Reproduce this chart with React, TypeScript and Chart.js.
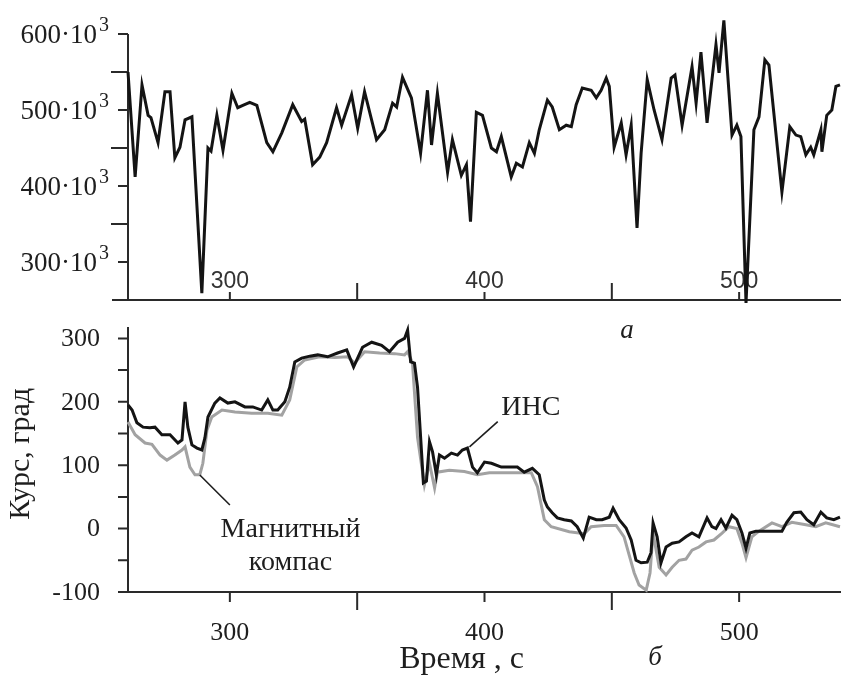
import { useEffect, useRef } from 'react';
import { Chart, registerables } from 'chart.js';

Chart.register(...registerables);

// ---------- data ----------
const X_MIN = 260;
const X_MAX = 540;
const X_TICKS = [300, 350, 400, 450, 500];
const X_LABELED = [300, 400, 500];

// panel "а" (values in thousands)
const A_Y_MIN = 250;
const A_Y_MAX = 600;
const A_Y_TICKS = [250, 300, 350, 400, 450, 500, 550, 600];
const A_Y_LABELED = [300, 400, 500, 600];

const TOP_T = [260.0, 262.8, 265.5, 267.9, 269.0, 271.8, 274.5, 276.5, 278.4, 280.4, 282.4, 285.1, 289.0, 291.4, 292.6, 294.9, 297.3, 300.8, 303.1, 305.1, 307.8, 310.6, 314.5, 316.9, 320.4, 324.7, 328.2, 329.4, 332.5, 335.3, 338.0, 341.9, 343.9, 347.8, 350.2, 352.9, 357.6, 360.8, 363.9, 365.5, 367.8, 371.3, 374.9, 377.6, 379.2, 381.5, 385.5, 387.4, 390.9, 392.9, 394.5, 396.8, 399.2, 402.7, 404.7, 406.6, 410.5, 412.5, 414.9, 417.6, 419.6, 421.5, 424.7, 426.6, 429.4, 432.1, 434.1, 436.0, 438.4, 441.9, 443.9, 445.8, 447.8, 449.0, 450.9, 453.7, 455.6, 457.6, 459.9, 461.5, 463.9, 466.6, 469.7, 473.3, 474.8, 477.6, 481.5, 483.1, 485.0, 487.4, 490.9, 492.1, 494.0, 497.2, 499.1, 500.7, 502.7, 505.8, 507.8, 510.1, 511.7, 516.8, 519.9, 522.3, 524.2, 526.2, 528.1, 529.3, 532.1, 532.5, 534.4, 536.4, 538.0, 539.6];
const TOP_V = [550, 412, 533, 493, 490, 457, 524, 524, 437, 451, 487, 491, 259, 450, 446, 493, 447, 522, 503, 506, 510, 506, 457, 445, 470, 507, 485, 488, 428, 438, 457, 503, 480, 520, 476, 524, 461, 474, 509, 504, 543, 516, 443, 526, 454, 522, 418, 461, 414, 428, 353, 497, 493, 450, 445, 465, 412, 430, 425, 457, 443, 474, 513, 504, 474, 480, 478, 507, 529, 526, 516, 526, 542, 531, 451, 483, 441, 480, 345, 443, 540, 500, 461, 542, 546, 480, 557, 509, 576, 483, 586, 549, 618, 467, 480, 465, 246, 474, 491, 566, 559, 392, 478, 467, 465, 441, 451, 441, 474, 445, 493, 500, 531, 533];

// panel "б"
const B_Y_MIN = -100;
const B_Y_MAX = 318;
const B_Y_TICKS = [-100, -50, 0, 50, 100, 150, 200, 250, 300];
const B_Y_LABELED = [-100, 0, 100, 200, 300];

const INS_T = [260.0, 261.6, 263.5, 265.9, 268.6, 270.6, 273.3, 276.5, 279.6, 281.2, 282.4, 283.5, 285.1, 287.1, 289.0, 290.2, 291.4, 294.1, 296.1, 299.2, 302.0, 305.9, 309.0, 312.5, 314.9, 316.9, 318.8, 321.6, 323.5, 325.5, 328.2, 331.4, 334.5, 338.4, 342.3, 345.9, 348.6, 352.1, 355.7, 359.6, 362.7, 365.9, 368.6, 369.8, 371.0, 372.5, 373.7, 375.3, 376.0, 377.2, 378.4, 379.6, 381.1, 382.3, 384.3, 387.0, 389.4, 391.3, 393.3, 395.3, 397.2, 400.0, 402.7, 406.6, 410.5, 412.9, 415.6, 418.8, 421.5, 423.5, 424.7, 426.6, 428.6, 431.3, 434.1, 436.4, 438.8, 441.1, 443.9, 446.2, 449.0, 450.5, 452.9, 455.6, 457.6, 459.5, 461.5, 463.9, 465.4, 466.2, 467.8, 469.3, 471.3, 473.7, 476.4, 479.1, 481.5, 484.2, 487.4, 489.3, 490.9, 492.9, 494.8, 497.2, 499.1, 501.1, 502.7, 504.2, 506.6, 516.8, 518.7, 521.5, 524.2, 526.6, 529.3, 532.1, 534.4, 537.2, 539.6];
const INS_V = [195, 187, 167, 160, 159, 160, 148, 148, 135, 140, 200, 160, 132, 127, 124, 143, 176, 198, 206, 198, 200, 192, 192, 187, 203, 187, 187, 200, 223, 263, 269, 272, 274, 271, 277, 282, 255, 286, 294, 289, 279, 294, 300, 313, 263, 261, 223, 119, 72, 75, 137, 121, 85, 116, 111, 119, 116, 124, 127, 97, 88, 105, 103, 97, 97, 97, 89, 95, 85, 45, 34, 25, 17, 14, 12, 3, -15, 18, 14, 14, 18, 32, 14, 1, -18, -50, -54, -53, -38, 9, -13, -54, -29, -23, -21, -13, -7, -13, 17, 3, 0, 14, 1, 21, 14, -7, -31, -7, -4, -4, 10, 25, 26, 14, 6, 26, 17, 14, 18];

const MAG_T = [260.0, 262.8, 266.7, 269.4, 272.6, 275.3, 278.4, 281.2, 282.4, 284.3, 286.3, 288.2, 289.4, 291.0, 292.9, 296.9, 302.0, 308.6, 314.9, 320.4, 323.5, 326.3, 329.4, 335.3, 341.2, 346.3, 349.0, 352.9, 358.8, 364.7, 368.6, 369.8, 371.7, 373.7, 376.4, 378.4, 380.4, 381.5, 386.2, 392.1, 397.2, 401.9, 409.8, 418.4, 420.8, 423.5, 426.2, 433.3, 439.2, 441.9, 447.0, 451.7, 454.8, 458.8, 460.7, 463.5, 465.0, 466.2, 468.6, 471.3, 473.7, 476.4, 479.1, 481.5, 484.2, 487.0, 490.1, 493.3, 496.0, 499.1, 501.1, 502.7, 505.0, 507.8, 512.9, 516.8, 520.7, 526.2, 530.1, 534.0, 539.6];
const MAG_V = [168, 148, 135, 133, 116, 108, 116, 124, 129, 97, 85, 85, 103, 155, 176, 187, 184, 182, 182, 179, 203, 255, 266, 271, 270, 271, 261, 279, 277, 276, 274, 279, 262, 144, 69, 103, 64, 89, 92, 90, 85, 88, 88, 88, 66, 14, 3, -5, -8, 3, 5, 5, -13, -70, -89, -97, -70, -7, -61, -73, -61, -50, -48, -34, -29, -21, -18, -7, 3, 0, -23, -46, -13, -4, 9, 3, 10, 6, 3, 9, 3];

// annotation anchors (data coordinates)
const INS_LEADER = [{ x: 394.1, y: 129 }, { x: 405.2, y: 168.6 }];
const INS_TEXT = { x: 406.6, y: 179, text: 'ИНС' };
const MAG_LEADER = [{ x: 288.2, y: 84.5 }, { x: 300.0, y: 37.2 }];
const MAG_TEXT1 = { x: 323.8, y: -13, text: 'Магнитный' };
const MAG_TEXT2 = { x: 323.8, y: -65, text: 'компас' };

const SERIF = '"Liberation Serif", "Times New Roman", serif';
const SANS = '"Liberation Sans", Arial, sans-serif';
const INK = '#1e1e1e';
const AXIS = '#2a2a2a';

function pts(xs: number[], ys: number[]) {
  return xs.map((x, i) => ({ x, y: ys[i] }));
}

const topPlugin = {
  id: 'topAxes',
  beforeDatasetsDraw(chart: any) {
    const { ctx } = chart;
    const xs = chart.scales.x;
    const ys = chart.scales.y;
    const left = xs.getPixelForValue(X_MIN);
    const base = ys.getPixelForValue(A_Y_MIN);
    const top = ys.getPixelForValue(A_Y_MAX);
    ctx.save();
    ctx.strokeStyle = AXIS;
    ctx.lineWidth = 2;
    ctx.beginPath();
    ctx.moveTo(left, top);
    ctx.lineTo(left, base);
    ctx.moveTo(left - 16, base);
    ctx.lineTo(chart.width, base);
    A_Y_TICKS.forEach((v) => {
      if (v === A_Y_MIN) return;
      const p = ys.getPixelForValue(v);
      const len = A_Y_LABELED.includes(v) ? 10 : 17;
      ctx.moveTo(left - len, p);
      ctx.lineTo(left, p);
    });
    X_TICKS.forEach((v) => {
      const p = xs.getPixelForValue(v);
      const len = X_LABELED.includes(v) ? 8 : 17;
      ctx.moveTo(p, base);
      ctx.lineTo(p, base - len);
    });
    ctx.stroke();
    ctx.fillStyle = '#333';
    ctx.font = `23px ${SANS}`;
    ctx.textAlign = 'center';
    ctx.textBaseline = 'alphabetic';
    X_LABELED.forEach((v) => ctx.fillText(String(v), xs.getPixelForValue(v), base - 12));
    ctx.restore();
  },
  afterDraw(chart: any) {
    const { ctx } = chart;
    const xs = chart.scales.x;
    const ys = chart.scales.y;
    const left = xs.getPixelForValue(X_MIN);
    const base = ys.getPixelForValue(A_Y_MIN);
    ctx.save();
    ctx.fillStyle = INK;
    // superscript exponent of the tick labels
    ctx.font = `20px ${SERIF}`;
    ctx.textAlign = 'left';
    ctx.textBaseline = 'alphabetic';
    A_Y_LABELED.forEach((v) => ctx.fillText('3', left - 29, ys.getPixelForValue(v) - 3));
    // caption
    ctx.font = `italic 27px ${SERIF}`;
    ctx.textAlign = 'center';
    ctx.fillText('а', xs.getPixelForValue(456), base + 38);
    ctx.restore();
  },
};

const bottomPlugin = {
  id: 'bottomAxes',
  beforeDatasetsDraw(chart: any) {
    const { ctx } = chart;
    const xs = chart.scales.x;
    const ys = chart.scales.y;
    const left = xs.getPixelForValue(X_MIN);
    const base = ys.getPixelForValue(B_Y_MIN);
    const top = ys.getPixelForValue(B_Y_MAX);
    ctx.save();
    ctx.strokeStyle = AXIS;
    ctx.lineWidth = 2;
    ctx.beginPath();
    ctx.moveTo(left, top);
    ctx.lineTo(left, base);
    ctx.moveTo(left - 10, base);
    ctx.lineTo(chart.width, base);
    B_Y_TICKS.forEach((v) => {
      if (v === B_Y_MIN) return;
      const p = ys.getPixelForValue(v);
      ctx.moveTo(left - 10, p);
      ctx.lineTo(left, p);
    });
    X_TICKS.forEach((v) => {
      const p = xs.getPixelForValue(v);
      const len = X_LABELED.includes(v) ? 10 : 18;
      ctx.moveTo(p, base);
      ctx.lineTo(p, base + len);
    });
    ctx.stroke();
    ctx.restore();
  },
  afterDraw(chart: any) {
    const { ctx } = chart;
    const xs = chart.scales.x;
    const ys = chart.scales.y;
    const base = ys.getPixelForValue(B_Y_MIN);
    const P = (p: { x: number; y: number }) => [xs.getPixelForValue(p.x), ys.getPixelForValue(p.y)];
    ctx.save();
    ctx.strokeStyle = INK;
    ctx.lineWidth = 1.6;
    [INS_LEADER, MAG_LEADER].forEach((seg) => {
      const [a, b] = seg.map(P);
      ctx.beginPath();
      ctx.moveTo(a[0], a[1]);
      ctx.lineTo(b[0], b[1]);
      ctx.stroke();
    });
    ctx.fillStyle = INK;
    ctx.font = `28px ${SERIF}`;
    ctx.textBaseline = 'alphabetic';
    ctx.textAlign = 'left';
    let q = P(INS_TEXT);
    ctx.fillText(INS_TEXT.text, q[0], q[1]);
    ctx.textAlign = 'center';
    q = P(MAG_TEXT1);
    ctx.fillText(MAG_TEXT1.text, q[0], q[1]);
    q = P(MAG_TEXT2);
    ctx.fillText(MAG_TEXT2.text, q[0], q[1]);
    // axis titles
    ctx.font = `32px ${SERIF}`;
    ctx.fillText('Время , с', xs.getPixelForValue(391), base + 76);
    ctx.save();
    ctx.translate(21, ys.getPixelForValue(118));
    ctx.rotate(-Math.PI / 2);
    ctx.textBaseline = 'middle';
    ctx.font = `30px ${SERIF}`;
    ctx.fillText('Курс, град', 0, 0);
    ctx.restore();
    // caption
    ctx.font = `italic 27px ${SERIF}`;
    ctx.fillText('б', xs.getPixelForValue(467), base + 73);
    ctx.restore();
  },
};

function zeroPad(s: any) {
  s.paddingTop = 0;
  s.paddingBottom = 0;
  s.paddingLeft = 0;
  s.paddingRight = 0;
}

export default function App() {
  const topRef = useRef<HTMLCanvasElement>(null);
  const botRef = useRef<HTMLCanvasElement>(null);

  useEffect(() => {
    const topChart = new Chart(topRef.current as HTMLCanvasElement, {
      type: 'line',
      data: {
        datasets: [
          {
            data: pts(TOP_T, TOP_V),
            borderColor: '#141414',
            borderWidth: 3,
            pointRadius: 0,
            tension: 0,
            clip: false as any,
          },
        ],
      },
      options: {
        animation: false,
        responsive: false,
        events: [],
        layout: { padding: { top: 34, left: 0, right: 0, bottom: 0 } },
        plugins: { legend: { display: false }, tooltip: { enabled: false } },
        scales: {
          x: {
            type: 'linear',
            min: X_MIN,
            max: X_MAX,
            grid: { display: false },
            border: { display: false },
            ticks: { display: false },
            afterBuildTicks: (s: any) => {
              s.ticks = X_TICKS.map((v) => ({ value: v }));
            },
            afterFit: (s: any) => {
              s.height = 50;
              zeroPad(s);
            },
          },
          y: {
            type: 'linear',
            min: A_Y_MIN,
            max: A_Y_MAX,
            grid: { display: false, drawTicks: false },
            border: { display: false },
            afterBuildTicks: (s: any) => {
              s.ticks = A_Y_TICKS.map((v) => ({ value: v }));
            },
            ticks: {
              autoSkip: false,
              padding: 31,
              labelOffset: 2,
              color: INK,
              font: { family: SERIF, size: 27 },
              callback: (v: any) => (A_Y_LABELED.includes(v) ? `${v}·10` : ''),
            },
            afterFit: (s: any) => {
              s.width = 128;
              zeroPad(s);
            },
          },
        },
      } as any,
      plugins: [topPlugin],
    });

    const botChart = new Chart(botRef.current as HTMLCanvasElement, {
      type: 'line',
      data: {
        datasets: [
          {
            label: 'ИНС',
            data: pts(INS_T, INS_V),
            borderColor: '#141414',
            borderWidth: 3,
            pointRadius: 0,
            tension: 0,
            clip: false as any,
          },
          {
            label: 'Магнитный компас',
            data: pts(MAG_T, MAG_V),
            borderColor: '#a2a2a2',
            borderWidth: 3,
            pointRadius: 0,
            tension: 0,
            clip: false as any,
          },
        ],
      },
      options: {
        animation: false,
        responsive: false,
        events: [],
        layout: { padding: { top: 27, left: 0, right: 0, bottom: 0 } },
        plugins: { legend: { display: false }, tooltip: { enabled: false } },
        scales: {
          x: {
            type: 'linear',
            min: X_MIN,
            max: X_MAX,
            grid: { display: false, drawTicks: false },
            border: { display: false },
            afterBuildTicks: (s: any) => {
              s.ticks = X_TICKS.map((v) => ({ value: v }));
            },
            ticks: {
              autoSkip: false,
              maxRotation: 0,
              padding: 26,
              color: INK,
              font: { family: SERIF, size: 26 },
              callback: (v: any) => (X_LABELED.includes(v) ? String(v) : ''),
            },
            afterFit: (s: any) => {
              s.height = 86;
              zeroPad(s);
            },
          },
          y: {
            type: 'linear',
            min: B_Y_MIN,
            max: B_Y_MAX,
            grid: { display: false, drawTicks: false },
            border: { display: false },
            afterBuildTicks: (s: any) => {
              s.ticks = B_Y_TICKS.map((v) => ({ value: v }));
            },
            ticks: {
              autoSkip: false,
              padding: 28,
              labelOffset: 1,
              color: INK,
              font: { family: SERIF, size: 26 },
              callback: (v: any) => (B_Y_LABELED.includes(v) ? String(v) : ''),
            },
            afterFit: (s: any) => {
              s.width = 128;
              zeroPad(s);
            },
          },
        },
      } as any,
      plugins: [bottomPlugin],
    });

    return () => {
      topChart.destroy();
      botChart.destroy();
    };
  }, []);

  return (
    <div style={{ position: 'fixed', left: 0, top: 0, width: 841, height: 678, background: '#ffffff' }}>
      <canvas
        ref={topRef}
        width={841}
        height={350}
        style={{ position: 'absolute', left: 0, top: 0, width: 841, height: 350 }}
      />
      <canvas
        ref={botRef}
        width={841}
        height={378}
        style={{ position: 'absolute', left: 0, top: 300, width: 841, height: 378 }}
      />
    </div>
  );
}
